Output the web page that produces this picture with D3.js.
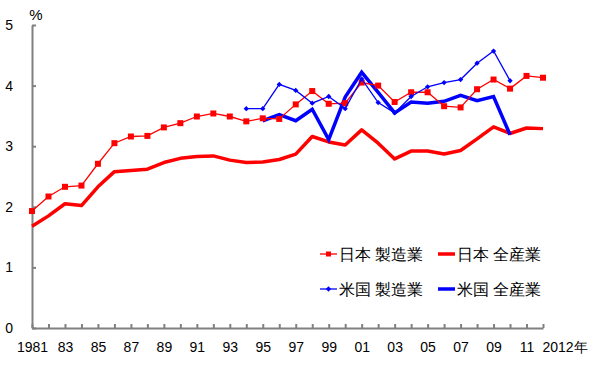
<!DOCTYPE html>
<meta charset="utf-8">
<script src="https://d3js.org/d3.v7.min.js"></script>
<style>
  body { margin: 0; background: #fff; }
  text { font-family: "Liberation Sans", Arial, sans-serif; }
</style>
<div id="chart"></div>
<script>
  // data (percent)
  var jpYears = d3.range(1981, 2013);
  var jpMfg = [1.93, 2.17, 2.33, 2.35, 2.71, 3.05, 3.16, 3.17, 3.31, 3.38,
               3.49, 3.54, 3.49, 3.41, 3.46, 3.45, 3.69, 3.91, 3.70, 3.71,
               4.05, 4.00, 3.73, 3.89, 3.89, 3.66, 3.64, 3.94, 4.10, 3.95,
               4.16, 4.13];
  var jpAll = [1.68, 1.85, 2.05, 2.02, 2.33, 2.58, 2.60, 2.62, 2.73, 2.80,
               2.83, 2.84, 2.77, 2.73, 2.74, 2.78, 2.87, 3.16, 3.07, 3.02,
               3.27, 3.05, 2.79, 2.92, 2.92, 2.87, 2.93, 3.12, 3.32, 3.21,
               3.30, 3.29];
  var usMfgYears = d3.range(1994, 2011);
  var usMfg = [3.62, 3.62, 4.02, 3.92, 3.71, 3.82, 3.62, 4.11, 3.72, 3.55,
               3.82, 3.98, 4.05, 4.10, 4.37, 4.57, 4.08];
  var usAllYears = d3.range(1995, 2011);
  var usAll = [3.42, 3.52, 3.42, 3.61, 3.11, 3.81, 4.22, 3.89, 3.55, 3.73,
               3.71, 3.74, 3.84, 3.75, 3.82, 3.19];
  var yTicks = [0, 1, 2, 3, 4, 5];

  var W = 600, H = 371;
  var svg = d3.select("#chart").append("svg")
      .attr("width", W).attr("height", H);

  var x = d3.scaleLinear().domain([1981, 2012]).range([32, 543]);
  var y = d3.scaleLinear().domain([0, 5]).range([328, 25]);

  // x axis: tick every year, label odd years
  var xAxis = svg.append("g")
      .attr("transform", "translate(0," + y(0) + ")")
      .call(d3.axisBottom(x)
        .tickValues(jpYears)
        .tickSizeInner(-4).tickSizeOuter(0).tickPadding(14)
        .tickFormat(function(d) {
          if (d == 1981) return "1981";
          if (d == 2012) return "2012年";
          return d % 2 == 1 ? String(d).slice(2) : "";
        }));
  xAxis.selectAll("text").attr("font-size", 14).attr("fill", "#000")
      .filter(function(d) { return d == 2012; })
      .attr("text-anchor", "start").attr("x", -1);

  var yAxis = svg.append("g")
      .attr("transform", "translate(" + x(1981) + ",0)")
      .call(d3.axisLeft(y).tickValues(yTicks)
        .tickSizeInner(-4).tickSizeOuter(0).tickPadding(19)
        .tickFormat(d3.format("d")));
  yAxis.selectAll("text").attr("font-size", 14).attr("fill", "#000");

  svg.selectAll(".domain, .tick line")
      .attr("stroke", "#808080").attr("stroke-width", 2);

  svg.append("text").attr("x", 36).attr("y", 20)
      .attr("text-anchor", "middle").attr("font-size", 15).text("%");

  var line = d3.line()
      .x(function(d) { return x(d[0]); })
      .y(function(d) { return y(d[1]); });

  function pairs(years, vals) {
    return years.map(function(yr, i) { return [yr, vals[i]]; });
  }

  // all industries (thick)
  svg.append("path").datum(pairs(jpYears, jpAll))
      .attr("d", line).attr("fill", "none")
      .attr("stroke", "#ff0000").attr("stroke-width", 3.5)
      .attr("stroke-linejoin", "round");
  svg.append("path").datum(pairs(usAllYears, usAll))
      .attr("d", line).attr("fill", "none")
      .attr("stroke", "#0000ff").attr("stroke-width", 3.5)
      .attr("stroke-linejoin", "miter");

  // manufacturing (thin with markers)
  svg.append("path").datum(pairs(jpYears, jpMfg))
      .attr("d", line).attr("fill", "none")
      .attr("stroke", "#ff0000").attr("stroke-width", 1.3);
  svg.selectAll(".jpm").data(pairs(jpYears, jpMfg)).enter()
    .append("rect")
      .attr("x", function(d) { return x(d[0]) - 3; })
      .attr("y", function(d) { return y(d[1]) - 3; })
      .attr("width", 6).attr("height", 6)
      .attr("fill", "#ff0000");

  svg.append("path").datum(pairs(usMfgYears, usMfg))
      .attr("d", line).attr("fill", "none")
      .attr("stroke", "#0000ff").attr("stroke-width", 1.3);
  var diamond = d3.symbol().type(d3.symbolSquare).size(14);
  svg.selectAll(".usm").data(pairs(usMfgYears, usMfg)).enter()
    .append("path")
      .attr("d", diamond)
      .attr("transform", function(d) { return "translate(" + x(d[0]) + "," + y(d[1]) + ") rotate(45)"; })
      .attr("fill", "#0000ff");

  // legend
  var legend = [
    {label: "日本 製造業", color: "#ff0000", w: 1.3, mark: "square", lx: 320, ly: 254},
    {label: "日本 全産業", color: "#ff0000", w: 3.5, mark: null, lx: 438, ly: 254},
    {label: "米国 製造業", color: "#0000ff", w: 1.3, mark: "diamond", lx: 320, ly: 289},
    {label: "米国 全産業", color: "#0000ff", w: 3.5, mark: null, lx: 438, ly: 289}
  ];
  legend.forEach(function(l) {
    var g = svg.append("g").attr("transform", "translate(" + l.lx + "," + l.ly + ")");
    g.append("line").attr("x1", 0).attr("x2", 17)
      .attr("stroke", l.color).attr("stroke-width", l.w);
    if (l.mark == "square")
      g.append("rect").attr("x", 6).attr("y", -2.5).attr("width", 5).attr("height", 5).attr("fill", l.color);
    if (l.mark == "diamond")
      g.append("path").attr("d", diamond).attr("transform", "translate(8.5,0) rotate(45)").attr("fill", l.color);
    g.append("text").attr("x", 19).attr("y", 6)
      .attr("font-size", 16).attr("font-family", "'Noto Sans CJK JP', sans-serif")
      .text(l.label);
  });
</script>
